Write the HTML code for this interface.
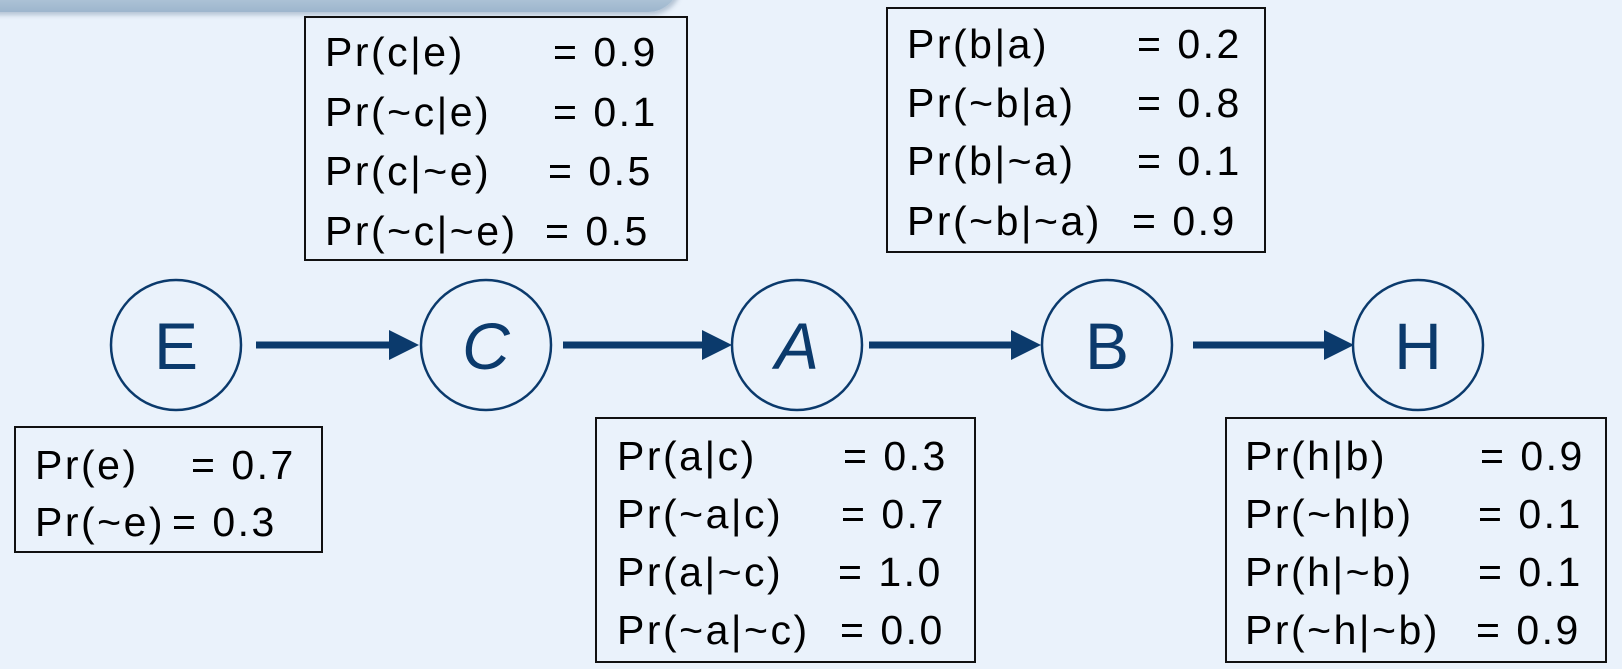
<!DOCTYPE html>
<html><head><meta charset="utf-8"><style>
html,body{margin:0;padding:0}
body{width:1622px;height:669px;overflow:hidden;background:#eaf2fb;position:relative;font-family:"Liberation Sans",sans-serif}
.bar{position:absolute;left:-20px;top:-20px;width:700px;height:32px;border-radius:0 0 40px 0;background:linear-gradient(#c4d4e3,#9db6cd);box-shadow:2px 3px 5px rgba(80,110,140,.35)}
.box{position:absolute;border:2px solid #111;box-sizing:border-box}
.t{position:absolute;font-size:41px;color:#000;white-space:nowrap;letter-spacing:2.5px;line-height:1}
svg{position:absolute;left:0;top:0}
</style></head><body>
<div class="bar"></div>
<svg width="1622" height="669">
<g fill="none" stroke="#0b3a6c" stroke-width="2.5">
<circle cx="176" cy="345" r="65"/><circle cx="486" cy="345" r="65"/><circle cx="797" cy="345" r="65"/><circle cx="1107" cy="345" r="65"/><circle cx="1418" cy="345" r="65"/>
</g>
<g stroke="#0b3a6c" stroke-width="7">
<line x1="256" y1="345" x2="392" y2="345"/><line x1="563" y1="345" x2="705" y2="345"/><line x1="869" y1="345" x2="1014" y2="345"/><line x1="1193" y1="345" x2="1327" y2="345"/>
</g>
<g fill="#0b3a6c">
<path d="M389,330 L419,345 L389,360z"/><path d="M702,330 L732,345 L702,360z"/><path d="M1011,330 L1041,345 L1011,360z"/><path d="M1324,330 L1354,345 L1324,360z"/>
</g>
<g font-family="Liberation Sans, sans-serif" font-size="66" fill="#0b3a6c" text-anchor="middle">
<text x="176" y="369">E</text><text x="486" y="369" font-style="italic">C</text><text x="797" y="369" font-style="italic">A</text><text x="1107" y="369">B</text><text x="1418" y="369">H</text>
</g>
</svg>

<div class="box" style="left:304px;top:16px;width:384px;height:245px"></div>
<div class="t" style="left:325px;top:32px">Pr(c|e)</div><div class="t" style="left:553px;top:32px">= 0.9</div>
<div class="t" style="left:325px;top:92px">Pr(~c|e)</div><div class="t" style="left:553px;top:92px">= 0.1</div>
<div class="t" style="left:325px;top:151px">Pr(c|~e)</div><div class="t" style="left:548px;top:151px">= 0.5</div>
<div class="t" style="left:325px;top:211px">Pr(~c|~e)</div><div class="t" style="left:545px;top:211px">= 0.5</div>

<div class="box" style="left:886px;top:7px;width:380px;height:246px"></div>
<div class="t" style="left:907px;top:24px">Pr(b|a)</div><div class="t" style="left:1137px;top:24px">= 0.2</div>
<div class="t" style="left:907px;top:83px">Pr(~b|a)</div><div class="t" style="left:1137px;top:83px">= 0.8</div>
<div class="t" style="left:907px;top:141px">Pr(b|~a)</div><div class="t" style="left:1137px;top:141px">= 0.1</div>
<div class="t" style="left:907px;top:201px">Pr(~b|~a)</div><div class="t" style="left:1132px;top:201px">= 0.9</div>

<div class="box" style="left:14px;top:426px;width:309px;height:127px"></div>
<div class="t" style="left:35px;top:445px">Pr(e)</div><div class="t" style="left:191px;top:445px">= 0.7</div>
<div class="t" style="left:35px;top:502px">Pr(~e)</div><div class="t" style="left:172px;top:502px">= 0.3</div>

<div class="box" style="left:595px;top:417px;width:381px;height:246px"></div>
<div class="t" style="left:617px;top:436px">Pr(a|c)</div><div class="t" style="left:843px;top:436px">= 0.3</div>
<div class="t" style="left:617px;top:494px">Pr(~a|c)</div><div class="t" style="left:841px;top:494px">= 0.7</div>
<div class="t" style="left:617px;top:552px">Pr(a|~c)</div><div class="t" style="left:838px;top:552px">= 1.0</div>
<div class="t" style="left:617px;top:610px">Pr(~a|~c)</div><div class="t" style="left:840px;top:610px">= 0.0</div>

<div class="box" style="left:1225px;top:417px;width:382px;height:246px"></div>
<div class="t" style="left:1245px;top:436px">Pr(h|b)</div><div class="t" style="left:1480px;top:436px">= 0.9</div>
<div class="t" style="left:1245px;top:494px">Pr(~h|b)</div><div class="t" style="left:1478px;top:494px">= 0.1</div>
<div class="t" style="left:1245px;top:552px">Pr(h|~b)</div><div class="t" style="left:1478px;top:552px">= 0.1</div>
<div class="t" style="left:1245px;top:610px">Pr(~h|~b)</div><div class="t" style="left:1476px;top:610px">= 0.9</div>
</body></html>
